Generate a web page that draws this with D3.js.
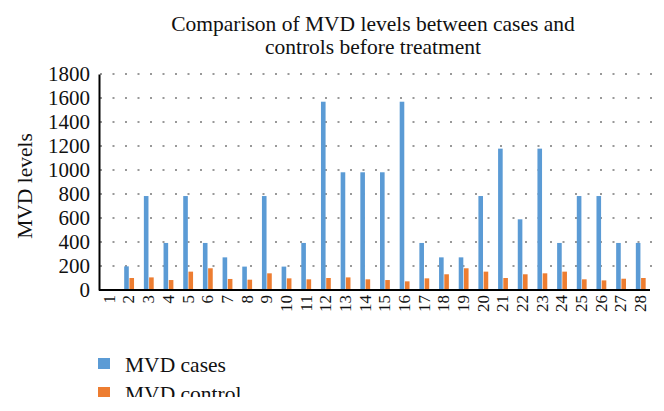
<!DOCTYPE html>
<html><head><meta charset="utf-8">
<script src="https://cdn.jsdelivr.net/npm/d3@7"></script>
<style>body{margin:0;background:#fff;} svg{display:block;}</style>
</head><body>
<svg id="c" width="664" height="411"></svg>
<script>
const categories = ["1","2","3","4","5","6","7","8","9","10","11","12","13","14","15","16","17","18","19","20","21","22","23","24","25","26","27","28"];
const casesValues = [0,197,783,392,783,392,272,195,783,195,392,1569,981,981,981,1569,392,272,272,783,1178,589,1178,392,783,783,392,392];
const controlValues = [0,100,105,83,153,181,92,86,139,97,89,100,105,89,83,72,97,131,181,153,100,131,139,153,89,80,94,100];
const yTicks = [0,200,400,600,800,1000,1200,1400,1600,1800];
const seriesNames = ["MVD cases","MVD control"];
const colors = ["#5B9BD5","#ED7D31"];
const titleLines = ["Comparison of MVD levels between cases and","controls before treatment"];
const yTitle = "MVD levels";

const svg = d3.select("#c");
const font = "'Liberation Serif', 'Times New Roman', serif";
const L = 99, R = 650, T = 74, B = 290;

const x = d3.scaleBand().domain(categories).range([L, R]).paddingInner(0).paddingOuter(0);
const xs = d3.scaleBand().domain([0,1]).range([x.bandwidth()*0.28, x.bandwidth()*0.78]).paddingInner(0.12);
const y = d3.scaleLinear().domain([0,1800]).range([B, T]);

// gridlines
svg.append("g").selectAll("line").data(yTicks.slice(1)).join("line")
  .attr("x1", L+1).attr("x2", R+8).attr("y1", d=>y(d)).attr("y2", d=>y(d))
  .attr("stroke", "#999").attr("stroke-width", 2).attr("stroke-dasharray", "2,10.5");

// bars
const series = [casesValues, controlValues];
series.forEach((vals, si) => {
  svg.append("g").selectAll("rect").data(vals).join("rect")
    .attr("x", (d,i)=>x(categories[i]) + xs(si))
    .attr("width", xs.bandwidth())
    .attr("y", d=>y(d))
    .attr("height", d=>B - y(d))
    .attr("fill", colors[si]);
});

// y axis
const yAxis = d3.axisLeft(y).tickValues(yTicks).tickSize(0).tickPadding(9).tickFormat(d3.format("d"));
const gy = svg.append("g").attr("transform", `translate(${L},0)`).call(yAxis);
gy.select(".domain").attr("stroke", "#000").attr("stroke-width", 2);
gy.selectAll("text").attr("font-family", font).attr("font-size", 21).attr("fill", "#111");

// x axis
const xAxis = d3.axisBottom(x).tickSize(0).tickPadding(5);
const gx = svg.append("g").attr("transform", `translate(0,${B})`).call(xAxis);
gx.select(".domain").attr("stroke", "#000").attr("stroke-width", 2).attr("d", `M${L},0H${R}`);
gx.selectAll("text").attr("font-family", font).attr("font-size", 17).attr("fill", "#111")
  .attr("transform", "rotate(-90)").attr("text-anchor", "end").attr("dy", "0.35em").attr("x", -5).attr("y", 0);

// title
svg.append("g").selectAll("text").data(titleLines).join("text")
  .attr("x", 373).attr("y", (d,i)=>31 + i*23.3)
  .attr("text-anchor", "middle").attr("font-family", font).attr("font-size", 21.5).attr("fill", "#111")
  .text(d=>d);

// y title
svg.append("text").attr("transform", `translate(32,${186}) rotate(-90)`)
  .attr("text-anchor", "middle").attr("font-family", font).attr("font-size", 21.5).attr("fill", "#111")
  .text(yTitle);

// legend
svg.append("defs").append("clipPath").attr("id", "lgclip")
  .append("rect").attr("x", 0).attr("y", 0).attr("width", 664).attr("height", 397);
const lg = svg.append("g").attr("clip-path", "url(#lgclip)").selectAll("g").data(seriesNames).join("g")
  .attr("transform", (d,i)=>`translate(98,${358 + i*29})`);
lg.append("rect").attr("width", 12).attr("height", 11).attr("fill", (d,i)=>colors[i]);
lg.append("text").attr("x", 27).attr("y", 13.5).attr("font-family", font).attr("font-size", 21.5).attr("fill", "#111").text(d=>d);
</script>
</body></html>
